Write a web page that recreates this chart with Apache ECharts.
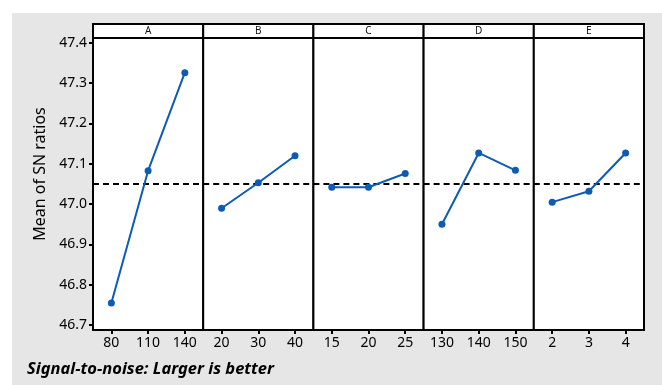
<!DOCTYPE html>
<html>
<head>
<meta charset="utf-8">
<script src="https://cdn.jsdelivr.net/npm/echarts@6/dist/echarts.min.js"></script>
<style>
  html, body { margin: 0; padding: 0; background: #fff; }
  #chart { width: 662px; height: 385px; }
</style>
</head>
<body>
<div id="chart"></div>
<script>
// Main effects plot for SN ratios (Taguchi design, larger is better)
const factorNames = ['A', 'B', 'C', 'D', 'E'];
const levelsA = ['80', '110', '140'];
const levelsB = ['20', '30', '40'];
const levelsC = ['15', '20', '25'];
const levelsD = ['130', '140', '150'];
const levelsE = ['2', '3', '4'];
const snA = [46.755, 47.083, 47.326];
const snB = [46.990, 47.053, 47.120];
const snC = [47.042, 47.042, 47.076];
const snD = [46.950, 47.127, 47.084];
const snE = [47.005, 47.032, 47.127];
const yTicks = [46.7, 46.8, 46.9, 47.0, 47.1, 47.2, 47.3, 47.4];

const levels = [levelsA, levelsB, levelsC, levelsD, levelsE];
const means = [snA, snB, snC, snD, snE];

// grand mean of every factor-level response (dashed reference line)
const allVals = [].concat(...means);
const grandMean = allVals.reduce((s, v) => s + v, 0) / allVals.length;

const yMin = 46.688, yMax = 47.412;
const panelLeft = 93, panelW = 110.2, plotTop = 38, plotBottom = 55, stripH = 14;
const lineBlue = '#0d5bb5';
const textFont = 'Noto Sans';

const grids = [], xAxes = [], yAxes = [], series = [], graphics = [];

// grey page backdrop
graphics.push({
  type: 'rect', z: -10, silent: true,
  shape: { x: 12, y: 13, width: 662 - 12, height: 385 - 13 },
  style: { fill: '#e6e6e6' }
});

factorNames.forEach((name, i) => {
  const left = panelLeft + i * panelW;
  grids.push({
    left: left, width: panelW, top: plotTop, bottom: plotBottom,
    show: true, backgroundColor: '#fff', borderColor: '#000', borderWidth: 2, z: 1
  });
  xAxes.push({
    type: 'category', gridIndex: i, data: levels[i], boundaryGap: true,
    axisLine: { show: true, lineStyle: { color: '#000', width: 2 } },
    axisTick: { show: true, alignWithLabel: true, length: 4, lineStyle: { color: '#000', width: 2 } },
    axisLabel: { color: '#000', fontSize: 14, fontFamily: textFont, margin: 6 },
    splitLine: { show: false }
  });
  yAxes.push({
    type: 'value', gridIndex: i, min: yMin, max: yMax, splitNumber: 7,
    show: i === 0,
    axisLine: { show: true, lineStyle: { color: '#000', width: 2 } },
    axisTick: { show: true, length: 4, lineStyle: { color: '#000', width: 2 } },
    axisLabel: {
      color: '#000', fontSize: 14, fontFamily: textFont, margin: 6,
      showMinLabel: false, showMaxLabel: false,
      formatter: v => yTicks.some(t => Math.abs(t - v) < 1e-6) ? v.toFixed(1) : ''
    },
    splitLine: { show: false }
  });
  series.push({
    type: 'line', xAxisIndex: i, yAxisIndex: i, data: means[i],
    symbol: 'circle', symbolSize: 7, z: 5,
    lineStyle: { color: lineBlue, width: 2 },
    itemStyle: { color: lineBlue },
    markLine: {
      silent: true, symbol: 'none', label: { show: false }, z: 3,
      lineStyle: { color: '#000', width: 2, type: [6, 4] },
      data: [{ yAxis: grandMean }]
    }
  });
  // factor strip above each panel
  graphics.push({
    type: 'group', z: 10,
    children: [
      {
        type: 'rect',
        shape: { x: left, y: plotTop - stripH, width: panelW, height: stripH },
        style: { fill: '#fff', stroke: '#000', lineWidth: 2 }
      },
      {
        type: 'text',
        x: left + panelW / 2, y: plotTop - stripH / 2,
        style: {
          text: name, fill: '#111', font: '10px "Noto Sans"',
          textAlign: 'center', textVerticalAlign: 'middle'
        }
      }
    ]
  });
});

// y-axis title
graphics.push({
  type: 'text', z: 10, x: 40, y: 174, rotation: Math.PI / 2,
  style: {
    text: 'Mean of SN ratios', fill: '#000', font: '16px "Noto Sans"',
    textAlign: 'center', textVerticalAlign: 'middle'
  }
});

graphics.push({
  type: 'text', z: 10, left: 27, top: 361,
  style: {
    text: 'Signal-to-noise: Larger is better', fill: '#000',
    font: 'italic bold 16.5px "Noto Sans"'
  }
});

const chart = echarts.init(document.getElementById('chart'), null, { renderer: 'canvas' });
chart.setOption({
  backgroundColor: '#fff',
  animation: false,
  grid: grids,
  xAxis: xAxes,
  yAxis: yAxes,
  series: series,
  graphic: graphics
});
</script>
</body>
</html>
